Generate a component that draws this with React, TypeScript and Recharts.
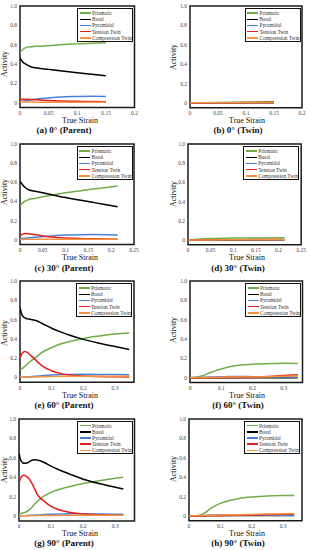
import React from 'react';
import { LineChart, Line, XAxis, YAxis, ReferenceArea } from 'recharts';

const seriesNames = ['Prismatic', 'Basal', 'Pyramidal', 'Tension Twin', 'Compression Twin'];
const seriesColors = ['#70ad47', '#000000', '#4a7fdc', '#e21d1d', '#f5923e'];

const yTicks = [0, 0.2, 0.4, 0.6, 0.8, 1.0];
const yTickLabels = ['0', '0.2', '0.4', '0.6', '0.8', '1.0'];
const xTicks015 = [0, 0.05, 0.1, 0.15, 0.2];
const xTicks025 = [0, 0.05, 0.1, 0.15, 0.2, 0.25];
const xTicks035 = [0, 0.1, 0.2, 0.3];

const captions = ['(a) 0° (Parent)', '(b) 0° (Twin)', '(c) 30° (Parent)', '(d) 30° (Twin)', '(e) 60° (Parent)', '(f) 60° (Twin)', '(g) 90° (Parent)', '(h) 90° (Twin)'];

// (a) 0° Parent
const aStrain = [0, 0.005, 0.01, 0.02, 0.03, 0.05, 0.07, 0.1, 0.125, 0.15];
const aPrismatic = [0.52, 0.55, 0.57, 0.58, 0.585, 0.59, 0.6, 0.61, 0.615, 0.62];
const aBasal = [0.46, 0.42, 0.4, 0.37, 0.36, 0.345, 0.33, 0.31, 0.295, 0.28];
const aPyramidal = [0.01, 0.015, 0.02, 0.03, 0.04, 0.05, 0.06, 0.065, 0.067, 0.065];
const aTension = [0.03, 0.035, 0.035, 0.033, 0.03, 0.023, 0.018, 0.015, 0.012, 0.01];
const aCompression = [0.01, 0.01, 0.008, 0.007, 0.006, 0.005, 0.005, 0.005, 0.005, 0.005];

// (b) 0° Twin
const bStrain = [0, 0.05, 0.1, 0.15];
const bPrismatic = [0, 0.004, 0.008, 0.012];
const bBasal = [0, 0, 0, 0];
const bPyramidal = [0, 0.001, 0.002, 0.002];
const bTension = [0, 0.002, 0.004, 0.006];
const bCompression = [0.001, 0.001, 0.002, 0.003];

// (c) 30° Parent
const cStrain = [0, 0.005, 0.01, 0.02, 0.03, 0.05, 0.07, 0.1, 0.13, 0.16, 0.19, 0.214];
const cPrismatic = [0.35, 0.38, 0.4, 0.42, 0.43, 0.45, 0.465, 0.49, 0.51, 0.53, 0.545, 0.56];
const cBasal = [0.61, 0.58, 0.55, 0.52, 0.51, 0.49, 0.47, 0.44, 0.415, 0.39, 0.365, 0.345];
const cPyramidal = [0.01, 0.012, 0.015, 0.02, 0.025, 0.033, 0.04, 0.048, 0.053, 0.055, 0.053, 0.05];
const cTension = [0.04, 0.055, 0.065, 0.062, 0.055, 0.04, 0.028, 0.018, 0.012, 0.009, 0.007, 0.006];
const cCompression = [0.002, 0.003, 0.004, 0.004, 0.004, 0.004, 0.004, 0.004, 0.004, 0.004, 0.004, 0.004];

// (d) 30° Twin
const dStrain = [0, 0.02, 0.05, 0.1, 0.15, 0.213];
const dPrismatic = [0, 0.008, 0.016, 0.02, 0.022, 0.024];
const dBasal = [0, 0, 0, 0, 0, 0];
const dPyramidal = [0, 0.001, 0.002, 0.002, 0.002, 0.002];
const dTension = [0, 0.001, 0.002, 0.003, 0.004, 0.006];
const dCompression = [0.001, 0.001, 0.001, 0.002, 0.002, 0.003];

// (e) 60° Parent
const eStrain = [0, 0.005, 0.01, 0.015, 0.02, 0.03, 0.05, 0.07, 0.1, 0.13, 0.16, 0.2, 0.25, 0.3, 0.345];
const ePrismatic = [0.08, 0.09, 0.1, 0.115, 0.13, 0.16, 0.21, 0.26, 0.31, 0.35, 0.375, 0.405, 0.43, 0.45, 0.46];
const eBasal = [0.72, 0.66, 0.63, 0.62, 0.61, 0.605, 0.59, 0.56, 0.51, 0.47, 0.435, 0.395, 0.355, 0.32, 0.29];
const ePyramidal = [0, 0.002, 0.003, 0.004, 0.005, 0.007, 0.012, 0.018, 0.025, 0.03, 0.032, 0.033, 0.032, 0.03, 0.028];
const eTension = [0.2, 0.24, 0.26, 0.268, 0.265, 0.24, 0.18, 0.12, 0.07, 0.04, 0.025, 0.015, 0.01, 0.007, 0.006];
const eCompression = [0.002, 0.003, 0.003, 0.004, 0.004, 0.005, 0.006, 0.008, 0.01, 0.012, 0.013, 0.013, 0.013, 0.012, 0.012];

// (f) 60° Twin
const fStrain = [0, 0.02, 0.04, 0.06, 0.08, 0.1, 0.13, 0.16, 0.2, 0.25, 0.3, 0.345];
const fPrismatic = [0, 0.005, 0.02, 0.045, 0.07, 0.09, 0.115, 0.13, 0.14, 0.145, 0.148, 0.147];
const fBasal = [0, 0, 0, 0, 0, 0, 0, 0, 0, 0, 0, 0];
const fPyramidal = [0, 0.002, 0.004, 0.006, 0.008, 0.01, 0.012, 0.012, 0.01, 0.008, 0.006, 0.005];
const fTension = [0, 0, 0, 0, 0, 0, 0.001, 0.002, 0.005, 0.012, 0.022, 0.03];
const fCompression = [0, 0.001, 0.002, 0.003, 0.004, 0.005, 0.006, 0.007, 0.008, 0.01, 0.014, 0.018];

// (g) 90° Parent
const gStrain = [0, 0.005, 0.01, 0.015, 0.02, 0.03, 0.04, 0.05, 0.06, 0.08, 0.1, 0.13, 0.16, 0.2, 0.25, 0.29, 0.325];
const gPrismatic = [0.02, 0.025, 0.03, 0.035, 0.04, 0.06, 0.09, 0.13, 0.16, 0.21, 0.245, 0.28, 0.305, 0.335, 0.365, 0.385, 0.4];
const gBasal = [0.65, 0.58, 0.555, 0.545, 0.545, 0.555, 0.575, 0.58, 0.575, 0.55, 0.515, 0.47, 0.43, 0.38, 0.335, 0.305, 0.28];
const gPyramidal = [0, 0.002, 0.003, 0.004, 0.005, 0.007, 0.009, 0.011, 0.013, 0.016, 0.019, 0.022, 0.024, 0.024, 0.022, 0.02, 0.018];
const gTension = [0.34, 0.39, 0.415, 0.42, 0.415, 0.39, 0.34, 0.27, 0.21, 0.15, 0.1, 0.06, 0.038, 0.022, 0.014, 0.01, 0.008];
const gCompression = [0.002, 0.003, 0.003, 0.003, 0.004, 0.004, 0.005, 0.005, 0.006, 0.006, 0.007, 0.008, 0.008, 0.009, 0.009, 0.009, 0.009];

// (h) 90° Twin
const hStrain = [0, 0.02, 0.03, 0.05, 0.07, 0.1, 0.13, 0.16, 0.2, 0.25, 0.3, 0.335];
const hPrismatic = [0, 0.002, 0.005, 0.03, 0.08, 0.13, 0.16, 0.18, 0.195, 0.205, 0.21, 0.21];
const hBasal = [0, 0.001, 0.002, 0.003, 0.004, 0.005, 0.005, 0.005, 0.005, 0.005, 0.005, 0.005];
const hPyramidal = [0, 0.002, 0.003, 0.005, 0.007, 0.009, 0.01, 0.01, 0.009, 0.008, 0.006, 0.005];
const hTension = [0, 0, 0, 0.001, 0.002, 0.003, 0.005, 0.007, 0.01, 0.014, 0.018, 0.021];
const hCompression = [0.002, 0.003, 0.004, 0.005, 0.007, 0.009, 0.011, 0.013, 0.016, 0.019, 0.022, 0.024];

const FONT = '"Liberation Serif", "DejaVu Serif", serif';
const YW = 14;
const PAD = 3;
const XH = 12;

type Box = { L: number; T: number; R: number; B: number };

function buildRows(strain: number[], vals: number[][]) {
  return strain.map((s, i) => {
    const row: any = { strain: s };
    seriesNames.forEach((n, k) => {
      row[n] = vals[k][i];
    });
    return row;
  });
}

const panels = [
  { box: { L: 20, T: 6, R: 134.5, B: 107.6 }, xMax: 0.2, xTicks: xTicks015, rows: buildRows(aStrain, [aPrismatic, aBasal, aPyramidal, aTension, aCompression]) },
  { box: { L: 190, T: 6, R: 302, B: 107.8 }, xMax: 0.2, xTicks: xTicks015, rows: buildRows(bStrain, [bPrismatic, bBasal, bPyramidal, bTension, bCompression]) },
  { box: { L: 20, T: 144, R: 134, B: 244.5 }, xMax: 0.25, xTicks: xTicks025, rows: buildRows(cStrain, [cPrismatic, cBasal, cPyramidal, cTension, cCompression]) },
  { box: { L: 187.5, T: 144, R: 300.7, B: 244.8 }, xMax: 0.25, xTicks: xTicks025, rows: buildRows(dStrain, [dPrismatic, dBasal, dPyramidal, dTension, dCompression]) },
  { box: { L: 19.5, T: 281, R: 133.5, B: 382.3 }, xMax: 0.36, xTicks: xTicks035, rows: buildRows(eStrain, [ePrismatic, eBasal, ePyramidal, eTension, eCompression]) },
  { box: { L: 190, T: 281, R: 302.5, B: 382.5 }, xMax: 0.36, xTicks: xTicks035, rows: buildRows(fStrain, [fPrismatic, fBasal, fPyramidal, fTension, fCompression]) },
  { box: { L: 19, T: 418.5, R: 134.5, B: 520.5 }, xMax: 0.36, xTicks: xTicks035, rows: buildRows(gStrain, [gPrismatic, gBasal, gPyramidal, gTension, gCompression]) },
  { box: { L: 188.5, T: 418.5, R: 301.5, B: 520.3 }, xMax: 0.36, xTicks: xTicks035, rows: buildRows(hStrain, [hPrismatic, hBasal, hPyramidal, hTension, hCompression]) },
];

const trueStrainY = [121.3, 258.3, 396, 534];
const captionY = [130.3, 267.5, 405, 543.2];
const activityYLeft = [64, 192, 333, 470];
const activityYRight = [57, 194, 330, 469];

function Txt({ x, y, children, size, bold, rotate }: any) {
  return (
    <div
      style={{
        position: 'absolute',
        left: x,
        top: y,
        transform: `translate(-50%, -50%)${rotate ? ' rotate(-90deg)' : ''}`,
        whiteSpace: 'nowrap',
        fontSize: size,
        fontWeight: bold ? 'bold' : 'normal',
        lineHeight: 1,
        color: '#111',
        fontFamily: FONT,
      }}
    >
      {children}
    </div>
  );
}

function LegendBox({ box }: { box: Box }) {
  const w = 56;
  return (
    <div
      style={{
        position: 'absolute',
        left: box.R - 1.5 - w,
        top: box.T + 2,
        width: w,
        height: 33.5,
        border: '1.2px solid #111',
        background: '#fff',
        boxSizing: 'border-box',
        padding: '1px 1.5px',
        fontFamily: FONT,
      }}
    >
      {seriesNames.map((n, k) => (
        <div key={n} style={{ display: 'flex', alignItems: 'center', height: 6.2 }}>
          <div style={{ width: 11, height: 1.5, background: seriesColors[k], marginRight: 1.5, flexShrink: 0 }} />
          <div style={{ fontSize: 5.3, lineHeight: '6.2px', color: '#333', whiteSpace: 'nowrap' }}>{n}</div>
        </div>
      ))}
    </div>
  );
}

function Panel({ p }: any) {
  const box: Box = p.box;
  const pw = box.R - box.L;
  const ph = box.B - box.T;
  const width = YW + pw + PAD + 6;
  const height = PAD + ph + XH;
  return (
    <>
      <div style={{ position: 'absolute', left: box.L - YW, top: box.T - PAD }}>
        <LineChart width={width} height={height} data={p.rows} margin={{ top: PAD, right: PAD + 6, left: 0, bottom: 0 }}>
          <XAxis
            type="number"
            dataKey="strain"
            domain={[0, p.xMax]}
            ticks={p.xTicks}
            allowDataOverflow
            height={XH}
            tickLine={false}
            tickSize={0}
            axisLine={false}
            interval={0}
            tickMargin={3.5}
            tick={{ fontSize: 5.5, fill: '#444', fontFamily: FONT }}
          />
          <YAxis
            type="number"
            domain={[-0.05, 1]}
            ticks={yTicks}
            allowDataOverflow
            width={YW}
            tickLine={false}
            tickSize={0}
            axisLine={false}
            interval={0}
            tickMargin={3}
            tickFormatter={(v: number) => yTickLabels[yTicks.indexOf(v)] ?? String(v)}
            tick={{ fontSize: 5.5, fill: '#444', fontFamily: FONT }}
          />
          {seriesNames.map((n, k) => (
            <Line
              key={n}
              type="monotone"
              dataKey={n}
              stroke={seriesColors[k]}
              strokeWidth={1.5}
              dot={false}
              isAnimationActive={false}
            />
          ))}
          <ReferenceArea x1={0} x2={p.xMax} y1={-0.05} y2={1} fill="none" stroke="#1a1a1a" strokeWidth={1.5} ifOverflow="visible" />
        </LineChart>
      </div>
      <LegendBox box={box} />
    </>
  );
}

export default function App() {
  return (
    <div style={{ position: 'absolute', left: 0, top: 0, width: 310, height: 550, background: '#fff', overflow: 'hidden' }}>
      {panels.map((p, i) => (
        <Panel key={i} p={p} />
      ))}
      {panels.map((p, i) => {
        const row = Math.floor(i / 2);
        const left = i % 2 === 0;
        return (
          <React.Fragment key={'t' + i}>
            <Txt x={left ? 5 : 174} y={left ? activityYLeft[row] : activityYRight[row]} size={8} rotate>
              Activity
            </Txt>
            <Txt x={left ? 80 : 247} y={trueStrainY[row]} size={8}>
              True Strain
            </Txt>
            <Txt x={left ? 64 : 238} y={captionY[row]} size={9} bold>
              {captions[i]}
            </Txt>
          </React.Fragment>
        );
      })}
    </div>
  );
}
